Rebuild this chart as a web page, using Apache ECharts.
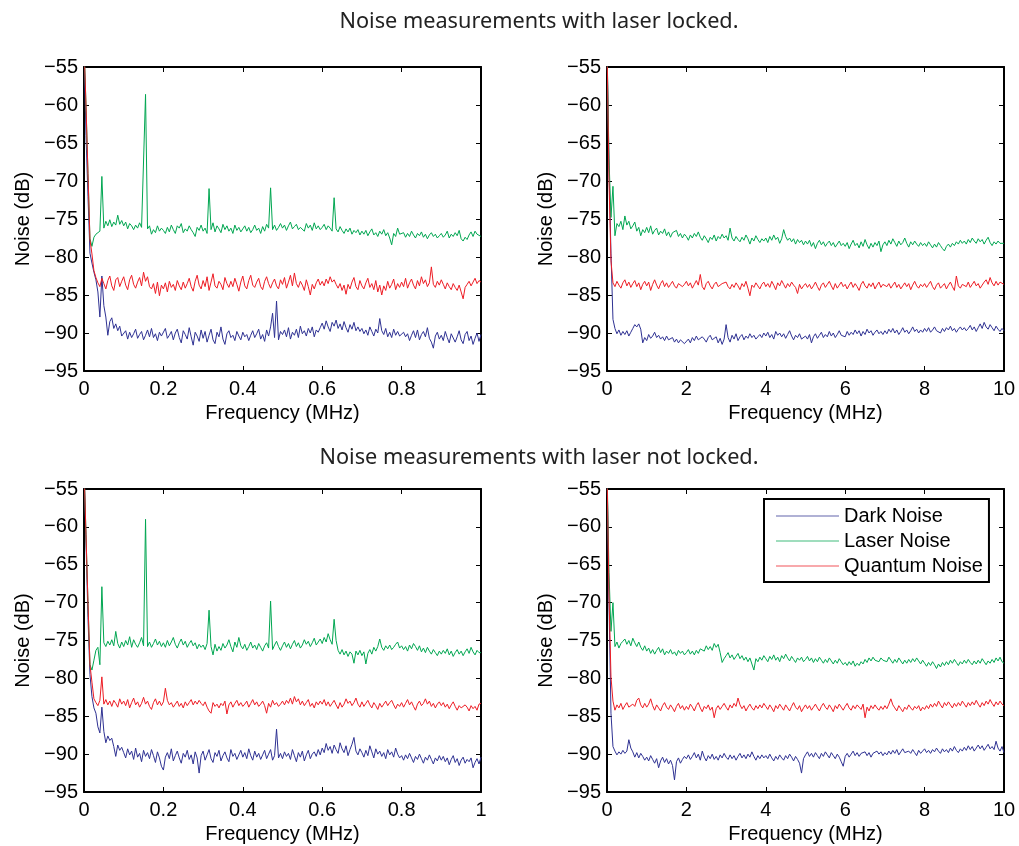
<!DOCTYPE html>
<html>
<head>
<meta charset="utf-8">
<script src="https://cdn.jsdelivr.net/npm/echarts@6/dist/echarts.min.js"></script>
<style>
html,body{margin:0;padding:0;background:#fff;}
#chart{width:1019px;height:846px;}
</style>
</head>
<body>
<div id="chart"></div>
<script>
// ---------- sample grids (frequency, MHz) ----------
const freqLow = Array.from({length: 201}, (_, i) => Math.round(i * 5) / 1000);   // 0 .. 1 MHz
const freqHigh = Array.from({length: 201}, (_, i) => Math.round(i * 50) / 1000); // 0 .. 10 MHz

// ---------- tick values ----------
const yTicks = { min: -95, max: -55, interval: 5 };
const xTicksLow = { min: 0, max: 1, interval: 0.2 };
const xTicksHigh = { min: 0, max: 10, interval: 2 };

const seriesNames = ['Dark Noise', 'Laser Noise', 'Quantum Noise'];
const titles = ['Noise measurements with laser locked.', 'Noise measurements with laser not locked.'];

// ---------- laser locked, 0-1 MHz ----------
const lockedLowDark = [
-52,-64,-72,-79.5,-80.8,-82,-83,-84.6,-87.9,-82.5,-86.4,-87.9,-90.3,-88.5,-88,-89.4,-88.8,-89.7,-89.1,-90.4,
-90.4,-89.7,-90.8,-89.9,-90.6,-90.1,-89.5,-90.7,-90.2,-89.8,-90.9,-90.3,-89.6,-90.5,-89.4,-90.6,-90.1,-91.0,-89.9,-90.4,
-90.2,-89.4,-90.7,-90.3,-89.8,-90.9,-90.0,-89.5,-90.6,-91.3,-89.7,-90.2,-90.8,-89.3,-90.5,-91.6,-89.9,-90.4,-91.1,-89.6,
-90.7,-89.8,-91.2,-90.3,-89.5,-90.9,-91.4,-89.9,-90.5,-89.2,-90.8,-91.5,-90.1,-89.7,-90.6,-90.3,-91.0,-89.8,-90.4,-90.9,
-89.9,-90.5,-90.2,-91.0,-90.3,-89.7,-90.6,-90.1,-89.5,-90.8,-90.2,-91.1,-89.6,-90.4,-89.2,-87.4,-90.6,-85.8,-90.9,-89.8,
-90.2,-89.6,-90.5,-89.3,-90.8,-89.9,-90.3,-89.5,-90.6,-89.1,-90.1,-89.7,-90.4,-89.4,-90.0,-89.2,-90.5,-89.6,-89.9,-89.3,
-88.7,-89.5,-88.4,-89.2,-89.8,-88.6,-89.1,-88.3,-89.4,-88.8,-89.6,-88.5,-89.3,-89.9,-88.9,-89.5,-88.6,-89.7,-89.2,-89.8,
-89.4,-90.1,-89.6,-90.3,-89.2,-89.8,-90.4,-89.5,-90.0,-88.1,-89.7,-90.2,-89.4,-90.5,-89.9,-90.6,-89.5,-90.3,-89.8,-90.4,
-90.6,-89.9,-90.5,-90.1,-91.0,-90.3,-89.7,-90.6,-89.6,-90.9,-90.2,-89.8,-90.5,-89.3,-90.7,-91.2,-92.0,-90.4,-89.9,-90.8,
-90.3,-91.0,-89.8,-90.6,-91.3,-90.1,-89.9,-91.2,-90.5,-89.7,-90.9,-91.4,-90.2,-89.8,-91.0,-90.4,-91.5,-90.7,-90.0,-91.1,
-90.2];
const lockedLowLaser = [
-52,-60,-69,-77.6,-78.6,-77.4,-77.0,-76.8,-76.6,-69.4,-76.2,-75.3,-75.9,-75.1,-76.0,-75.4,-75.8,-74.5,-75.7,-75.2,
-75.9,-75.4,-76.3,-75.6,-75.9,-76.4,-75.8,-76.2,-75.5,-76.1,-76.0,-58.6,-76.3,-75.9,-77.0,-76.4,-76.8,-75.9,-76.6,-76.2,
-76.5,-76.9,-76.1,-76.7,-75.8,-76.4,-76.9,-75.9,-76.2,-75.6,-76.8,-76.3,-76.6,-75.9,-76.4,-76.8,-77.3,-76.1,-76.5,-75.8,
-76.6,-76.2,-76.9,-71.0,-76.4,-75.5,-76.7,-75.9,-76.3,-76.8,-75.7,-76.4,-75.9,-76.6,-76.2,-76.9,-75.8,-76.5,-76.1,-76.7,
-76.3,-75.9,-76.6,-76.1,-76.8,-76.4,-75.8,-76.5,-76.2,-76.9,-76.0,-76.6,-75.7,-76.2,-70.9,-76.4,-75.8,-76.5,-76.1,-75.6,
-76.2,-75.8,-76.5,-75.9,-75.4,-76.3,-76.0,-75.7,-76.4,-76.1,-75.9,-76.6,-75.6,-76.2,-75.8,-76.5,-75.5,-76.3,-75.9,-76.4,
-76.1,-75.7,-76.4,-75.9,-76.2,-76.6,-72.2,-76.3,-76.7,-76.0,-76.5,-76.9,-76.3,-76.7,-76.2,-77.0,-76.5,-76.8,-76.4,-77.1,
-76.6,-77.0,-76.5,-77.2,-76.7,-76.3,-77.1,-76.8,-77.3,-76.6,-77.0,-76.4,-77.2,-76.8,-77.5,-78.4,-76.9,-77.3,-76.2,-77.0,
-77.2,-76.8,-77.4,-76.9,-77.3,-76.6,-77.1,-77.5,-76.9,-77.2,-76.7,-77.4,-77.0,-77.6,-77.1,-76.8,-77.3,-77.0,-77.5,-77.2,
-76.9,-77.4,-77.1,-76.6,-77.5,-77.0,-77.3,-76.8,-77.2,-76.5,-77.6,-77.9,-77.4,-77.7,-77.1,-76.7,-77.3,-76.6,-77.0,-77.2,
-77.3];
const lockedLowQuantum = [
-52,-60,-69,-77.7,-79.6,-81.8,-82.7,-83.4,-83.9,-82.8,-83.5,-84.2,-83.1,-82.5,-83.8,-84.4,-83.0,-82.7,-83.9,-83.2,
-82.6,-83.7,-84.3,-83.0,-82.4,-83.6,-84.1,-83.3,-82.7,-83.8,-82.0,-83.2,-82.6,-83.9,-84.2,-83.5,-84.8,-83.3,-85.1,-83.7,
-84.2,-83.4,-84.6,-83.2,-84.0,-83.6,-84.4,-83.1,-83.8,-84.3,-83.3,-84.1,-83.5,-82.8,-83.9,-84.5,-83.2,-82.4,-83.7,-84.2,
-83.1,-83.9,-82.6,-84.4,-83.3,-82.2,-83.8,-84.1,-83.2,-83.6,-84.3,-82.7,-83.5,-84.0,-83.2,-83.9,-82.8,-83.6,-84.5,-83.3,
-82.5,-83.8,-84.2,-83.1,-82.4,-83.7,-84.0,-83.3,-82.8,-83.9,-84.3,-83.2,-82.6,-83.5,-84.1,-83.4,-82.9,-83.8,-84.2,-83.0,
-83.6,-82.7,-84.1,-83.3,-82.4,-83.8,-82.1,-83.5,-84.0,-83.2,-83.7,-84.4,-83.0,-83.9,-85.0,-83.6,-84.2,-83.4,-82.9,-83.7,
-83.2,-83.8,-82.9,-83.5,-82.6,-83.3,-83.0,-83.6,-84.1,-83.5,-84.4,-83.7,-84.9,-83.6,-84.2,-83.3,-82.7,-83.9,-84.3,-83.1,
-83.8,-84.2,-83.4,-82.8,-84.0,-83.5,-84.3,-83.1,-84.6,-83.7,-85.0,-83.8,-84.4,-83.2,-84.1,-83.6,-82.9,-84.3,-83.5,-84.0,
-83.3,-83.9,-82.8,-84.1,-83.4,-82.9,-83.7,-84.2,-83.1,-83.8,-82.6,-83.5,-83.0,-83.9,-83.4,-81.3,-83.6,-84.0,-83.2,-83.7,
-83.0,-83.6,-84.2,-83.4,-83.9,-84.3,-83.5,-84.0,-84.4,-83.7,-84.6,-85.5,-84.0,-83.6,-83.2,-83.8,-83.3,-82.8,-83.5,-83.1,
-83.3];

// ---------- laser locked, 0-10 MHz ----------
const lockedHighDark = [
-52,-68,-79.5,-88.2,-89.4,-90.1,-89.6,-90.3,-89.8,-90.2,-89.7,-90.4,-89.9,-89.4,-88.9,-89.2,-88.8,-89.5,-91.3,-90.6,
-91.0,-90.2,-90.7,-90.4,-89.9,-90.6,-90.3,-90.8,-90.5,-91.0,-90.4,-90.9,-91.1,-90.6,-91.2,-90.8,-91.3,-90.9,-91.1,-91.4,
-91.2,-90.8,-91.3,-90.6,-91.0,-90.4,-90.9,-91.1,-90.5,-90.8,-91.2,-90.6,-90.3,-90.9,-91.0,-90.5,-91.3,-90.7,-91.5,-90.8,
-88.9,-90.6,-91.2,-90.3,-90.8,-90.1,-91.0,-90.5,-90.2,-90.9,-90.4,-90.7,-90.1,-90.6,-90.3,-90.8,-90.5,-90.2,-90.6,-90.0,
-90.4,-89.9,-90.6,-90.2,-90.8,-89.8,-90.3,-90.0,-90.5,-90.1,-90.7,-90.2,-89.7,-90.4,-90.9,-90.3,-90.6,-90.1,-90.8,-91.0,
-90.4,-90.8,-90.2,-91.3,-90.5,-90.1,-90.7,-90.3,-89.9,-90.6,-90.2,-90.5,-89.8,-90.4,-90.0,-90.6,-90.2,-89.7,-90.3,-90.1,
-90.5,-89.8,-90.3,-89.9,-90.2,-89.6,-90.1,-89.7,-90.4,-89.8,-90.2,-89.5,-90.0,-89.7,-90.3,-89.9,-89.6,-90.1,-89.8,-90.2,
-89.7,-90.1,-89.5,-89.9,-89.4,-90.0,-89.6,-90.2,-89.8,-89.3,-89.9,-89.6,-90.1,-89.7,-89.2,-89.8,-89.5,-90.0,-89.6,-89.9,
-89.4,-89.8,-89.3,-89.9,-89.6,-89.2,-89.7,-89.5,-90.0,-89.4,-89.8,-89.3,-89.6,-89.1,-89.7,-89.4,-89.9,-89.5,-89.2,-89.6,
-89.3,-89.7,-89.4,-89.0,-89.6,-89.2,-89.8,-89.3,-88.8,-89.4,-88.6,-89.2,-89.5,-88.9,-89.3,-89.7,-89.1,-89.5,-89.8,-89.4,
-89.7];
const lockedHighLaser = [
-52,-67,-74.8,-70.7,-77.2,-75.6,-76.0,-75.3,-76.4,-74.6,-75.8,-75.3,-76.3,-75.9,-75.4,-76.6,-76.1,-77.2,-76.4,-76.8,
-76.1,-76.8,-75.9,-77.0,-76.5,-76.2,-77.1,-76.6,-76.9,-76.3,-77.2,-76.7,-77.4,-76.8,-77.0,-76.5,-77.3,-76.9,-77.5,-77.0,
-77.3,-77.8,-77.1,-77.5,-76.9,-77.3,-76.7,-77.4,-77.8,-77.2,-77.6,-78.1,-77.4,-77.7,-77.1,-77.9,-77.3,-77.6,-77.0,-77.5,
-77.2,-77.8,-76.2,-77.5,-77.9,-77.3,-77.7,-78.0,-77.4,-77.8,-77.1,-77.6,-78.3,-77.5,-77.9,-77.2,-77.7,-78.1,-77.6,-77.9,
-77.5,-78.1,-77.3,-77.8,-77.1,-77.7,-77.4,-78.2,-77.6,-76.4,-77.3,-77.8,-77.5,-78.0,-77.6,-78.3,-77.7,-78.1,-77.8,-78.4,
-77.9,-78.3,-77.8,-78.6,-78.1,-78.9,-78.2,-77.8,-78.4,-78.0,-78.6,-78.2,-77.9,-78.5,-78.1,-78.7,-78.3,-77.9,-78.5,-78.2,
-78.6,-78.1,-78.9,-78.3,-77.8,-78.5,-78.2,-78.8,-78.0,-78.6,-77.7,-78.4,-78.9,-78.2,-78.7,-78.1,-78.5,-77.9,-79.3,-78.4,
-78.0,-78.5,-77.8,-78.3,-77.6,-78.1,-78.6,-77.9,-78.4,-78.1,-77.5,-78.2,-78.7,-78.0,-78.4,-77.9,-78.3,-78.6,-78.1,-78.5,
-78.2,-78.6,-78.0,-78.4,-78.8,-78.3,-78.7,-78.1,-78.5,-78.9,-79.2,-78.6,-78.3,-78.7,-78.2,-78.5,-78.0,-78.3,-77.8,-78.2,
-77.9,-78.3,-77.7,-78.1,-77.5,-77.9,-78.2,-77.6,-78.0,-77.7,-78.3,-77.8,-77.4,-78.1,-78.5,-78.0,-78.3,-77.9,-78.2,-78.1,
-78.2];
const lockedHighQuantum = [
-52,-70,-80.5,-83.4,-83.9,-83.2,-83.7,-84.1,-83.4,-83.0,-83.8,-83.3,-84.0,-83.5,-83.1,-83.9,-83.4,-84.3,-83.6,-83.2,
-83.8,-83.3,-84.4,-83.6,-83.0,-83.7,-84.2,-83.5,-83.1,-83.9,-83.4,-84.0,-83.6,-83.2,-83.8,-84.1,-83.5,-83.3,-83.9,-83.6,
-83.2,-83.8,-83.4,-84.1,-83.6,-83.1,-83.7,-82.3,-83.9,-84.3,-83.5,-83.2,-83.8,-84.2,-83.6,-83.3,-83.9,-84.0,-83.5,-83.7,
-83.3,-83.9,-84.2,-83.6,-84.0,-83.4,-83.8,-84.3,-83.5,-83.9,-83.2,-84.1,-85.1,-83.7,-84.0,-83.4,-83.8,-84.2,-83.6,-83.3,
-83.9,-83.5,-84.0,-83.2,-83.7,-84.3,-83.4,-83.8,-83.1,-83.6,-84.1,-83.5,-83.9,-83.3,-83.7,-84.0,-84.8,-83.6,-84.2,-83.8,
-83.5,-84.0,-83.6,-84.2,-83.8,-83.3,-83.9,-84.4,-83.7,-83.4,-84.0,-83.6,-83.2,-83.8,-84.3,-83.5,-84.1,-83.7,-83.3,-83.9,
-83.6,-84.2,-83.7,-83.3,-84.0,-83.5,-83.9,-84.4,-83.6,-83.2,-83.8,-84.1,-83.5,-83.9,-83.4,-84.2,-83.7,-83.3,-84.0,-83.6,
-83.4,-83.9,-83.5,-84.1,-83.7,-83.3,-84.0,-83.6,-84.2,-83.8,-83.4,-83.9,-83.5,-84.3,-83.7,-83.2,-83.8,-84.1,-83.6,-83.9,
-83.5,-84.0,-83.6,-83.2,-83.9,-84.3,-83.7,-83.4,-84.1,-83.8,-83.5,-84.2,-83.7,-83.3,-83.9,-84.4,-82.5,-83.8,-84.1,-83.6,
-83.4,-83.9,-83.3,-84.0,-83.6,-83.2,-83.8,-83.5,-84.1,-83.7,-83.3,-83.0,-83.6,-82.7,-83.4,-83.8,-83.2,-83.7,-83.3,-83.5,
-83.6];

// ---------- laser not locked, 0-1 MHz ----------
const unlockedLowDark = [
-52,-62,-72,-79.5,-82.4,-83.9,-84.6,-86.4,-87.2,-83.8,-87.0,-88.5,-87.6,-88.2,-87.9,-89.0,-90.3,-88.8,-89.5,-89.1,
-89.8,-90.5,-89.3,-90.1,-89.6,-90.7,-89.2,-90.4,-89.9,-91.0,-89.5,-90.3,-89.8,-90.6,-89.4,-90.2,-91.1,-89.7,-90.5,-91.6,
-92.1,-90.4,-89.8,-90.6,-89.3,-90.9,-90.2,-89.6,-90.5,-91.2,-89.9,-90.4,-89.5,-90.7,-90.1,-91.3,-89.7,-90.5,-92.5,-90.2,
-89.6,-90.8,-90.1,-89.4,-90.6,-91.1,-89.8,-90.3,-89.5,-90.9,-90.2,-89.7,-90.5,-91.0,-89.4,-90.3,-89.9,-90.7,-90.1,-89.5,
-90.4,-89.8,-90.6,-89.3,-90.2,-90.8,-89.6,-90.4,-89.9,-90.7,-90.1,-89.5,-90.6,-90.0,-89.4,-90.8,-90.2,-86.7,-90.5,-89.9,
-90.6,-89.7,-90.3,-89.9,-90.7,-89.4,-90.2,-91.0,-89.8,-90.4,-89.6,-90.9,-90.1,-89.5,-90.6,-90.0,-89.7,-90.3,-89.4,-90.1,
-89.2,-89.8,-88.6,-89.5,-89.0,-89.9,-88.8,-89.4,-89.9,-88.5,-89.3,-89.8,-88.9,-90.2,-89.4,-88.7,-87.8,-89.6,-90.1,-89.3,
-89.8,-90.4,-89.5,-90.2,-88.9,-89.7,-90.5,-89.3,-90.0,-89.6,-90.3,-89.8,-90.6,-89.4,-90.1,-89.7,-90.4,-89.2,-90.0,-90.5,
-90.2,-90.8,-90.1,-90.6,-89.9,-90.5,-91.1,-90.3,-90.7,-90.0,-90.6,-91.2,-90.4,-90.8,-90.1,-90.7,-91.3,-90.5,-90.9,-90.2,
-90.8,-90.3,-91.0,-90.5,-91.4,-90.7,-90.2,-91.1,-90.6,-91.5,-90.8,-90.4,-91.2,-90.7,-91.0,-90.5,-91.8,-91.1,-90.6,-91.3,
-90.4];
const unlockedLowLaser = [
-52,-61,-70,-78.2,-78.9,-77.6,-76.3,-75.9,-78.2,-67.9,-75.3,-75.8,-75.1,-75.6,-74.9,-75.7,-73.8,-75.4,-76.0,-75.2,
-75.8,-75.0,-75.6,-74.5,-75.9,-74.9,-75.5,-75.9,-75.3,-74.6,-75.7,-59.0,-75.8,-75.2,-75.9,-75.4,-74.8,-75.6,-75.1,-75.8,
-75.3,-75.9,-75.0,-75.7,-75.2,-74.6,-75.5,-76.0,-75.3,-74.8,-75.6,-75.1,-75.9,-75.4,-75.0,-75.7,-75.3,-76.1,-75.5,-75.9,
-75.6,-76.2,-75.4,-71.0,-75.8,-76.9,-75.5,-76.4,-75.8,-76.3,-75.4,-76.0,-75.6,-74.9,-75.8,-76.5,-75.2,-75.9,-74.6,-75.7,
-76.1,-75.5,-76.3,-75.8,-75.2,-76.0,-75.6,-76.2,-75.4,-75.9,-76.4,-75.7,-75.3,-76.0,-69.8,-76.2,-75.6,-75.1,-75.8,-76.3,
-75.7,-75.2,-75.9,-75.4,-76.1,-75.5,-75.0,-75.8,-75.3,-76.0,-75.6,-74.9,-75.5,-75.1,-75.8,-75.3,-74.7,-75.6,-75.2,-74.8,
-75.4,-74.6,-75.2,-74.1,-74.9,-75.5,-72.2,-75.0,-76.3,-76.8,-76.2,-76.9,-76.4,-77.1,-76.5,-76.8,-78.0,-76.4,-76.9,-76.3,
-77.0,-76.5,-78.1,-76.7,-76.2,-76.8,-75.9,-76.4,-75.8,-74.8,-75.9,-76.3,-75.7,-76.1,-75.6,-76.2,-75.9,-75.5,-75.2,-76.0,
-75.7,-76.2,-75.8,-76.4,-75.6,-76.1,-75.4,-75.8,-76.3,-75.7,-76.5,-76.0,-76.6,-75.9,-76.4,-76.8,-76.2,-76.6,-77.0,-76.4,
-76.8,-76.3,-76.7,-76.1,-76.9,-76.4,-77.1,-76.6,-76.2,-76.8,-76.4,-77.0,-76.5,-76.1,-76.7,-75.9,-76.5,-76.9,-76.3,-76.6,
-76.6];
const unlockedLowQuantum = [
-52,-61,-70,-78.2,-80.5,-82.7,-83.2,-83.6,-82.9,-79.8,-83.4,-82.8,-83.5,-83.0,-83.7,-82.9,-83.3,-83.8,-82.7,-83.4,
-83.0,-83.6,-82.8,-83.9,-83.2,-82.6,-83.5,-83.1,-83.8,-83.3,-82.5,-83.4,-83.0,-83.7,-84.1,-83.2,-82.7,-83.5,-83.0,-83.6,
-83.1,-81.3,-82.9,-83.5,-83.2,-83.8,-83.4,-83.0,-83.7,-83.3,-83.9,-83.1,-83.6,-83.2,-82.8,-83.5,-83.0,-83.4,-82.9,-83.3,
-83.6,-83.1,-83.8,-84.3,-84.6,-83.2,-83.7,-83.4,-83.9,-83.3,-83.6,-83.0,-84.7,-83.5,-83.1,-83.8,-83.3,-82.9,-83.6,-83.2,
-83.7,-83.4,-83.0,-83.8,-83.3,-82.8,-83.5,-83.1,-83.7,-83.4,-83.0,-83.6,-84.6,-83.3,-83.8,-82.9,-83.5,-83.2,-83.7,-83.4,
-83.0,-83.5,-82.9,-83.3,-82.6,-83.4,-82.4,-83.1,-82.7,-83.5,-83.0,-83.6,-83.2,-82.8,-83.7,-83.3,-83.9,-83.1,-83.5,-83.0,
-83.4,-82.8,-83.6,-83.1,-83.7,-83.3,-82.9,-83.5,-84.0,-83.2,-83.8,-83.4,-82.7,-83.3,-83.0,-83.6,-83.2,-82.6,-83.4,-83.8,
-83.1,-83.7,-83.3,-82.9,-83.5,-83.9,-83.2,-83.6,-84.1,-83.3,-83.8,-83.4,-83.0,-83.6,-83.2,-82.9,-83.5,-84.0,-83.4,-83.7,
-83.2,-83.8,-83.3,-82.8,-83.5,-83.1,-83.7,-84.2,-83.4,-83.0,-83.6,-83.3,-82.7,-83.4,-83.0,-83.7,-83.3,-83.9,-83.4,-83.1,
-83.6,-83.2,-83.8,-83.4,-84.0,-83.5,-83.1,-83.7,-84.2,-83.6,-83.9,-84.1,-83.5,-83.8,-84.3,-83.6,-84.0,-83.7,-84.2,-83.4,
-83.3];

// ---------- laser not locked, 0-10 MHz ----------
const unlockedHighDark = [
-52,-70,-84.6,-89.0,-89.6,-90.1,-89.7,-90.0,-89.5,-89.9,-89.6,-88.1,-89.2,-89.7,-90.4,-89.8,-90.5,-89.9,-90.3,-90.8,
-90.4,-90.9,-90.2,-90.7,-91.2,-90.6,-91.8,-90.9,-90.4,-91.1,-90.6,-91.3,-90.8,-91.5,-93.4,-91.0,-90.5,-91.2,-90.7,-90.3,
-90.6,-90.1,-90.7,-90.3,-89.8,-90.5,-90.0,-90.8,-89.6,-90.4,-90.9,-90.2,-90.6,-90.0,-90.7,-90.3,-90.8,-90.1,-90.5,-89.9,
-90.4,-90.7,-90.1,-90.6,-90.2,-90.8,-90.3,-89.9,-90.5,-90.1,-90.6,-90.0,-90.4,-89.7,-90.3,-90.8,-90.2,-90.6,-90.1,-90.5,
-90.2,-90.6,-90.0,-90.5,-90.9,-90.3,-90.7,-90.1,-90.5,-90.8,-90.2,-90.6,-90.0,-90.4,-90.9,-90.3,-90.7,-91.2,-92.5,-90.6,
-90.1,-89.7,-90.3,-89.9,-90.4,-89.8,-90.2,-90.6,-89.9,-90.3,-89.7,-90.1,-90.5,-89.8,-90.2,-90.6,-90.0,-90.4,-91.0,-91.6,
-90.3,-89.9,-90.4,-90.0,-89.6,-90.2,-89.8,-90.3,-89.9,-90.1,-89.7,-90.2,-89.8,-90.4,-89.9,-90.1,-89.6,-90.0,-89.7,-90.2,
-89.8,-90.1,-89.6,-90.0,-89.5,-89.9,-89.4,-90.1,-89.7,-89.3,-89.8,-90.0,-89.6,-89.9,-89.4,-89.8,-90.2,-89.5,-89.9,-89.6,
-89.3,-89.8,-89.5,-89.9,-89.4,-89.7,-89.2,-89.6,-89.9,-89.3,-89.7,-89.4,-89.8,-89.2,-89.6,-89.0,-89.5,-89.8,-89.3,-89.6,
-89.1,-89.5,-88.9,-89.4,-89.0,-89.6,-89.2,-88.8,-89.3,-88.9,-89.5,-89.1,-88.7,-89.3,-89.0,-89.4,-88.3,-89.2,-89.6,-89.0,
-89.8];
const unlockedHighLaser = [
-52,-66,-73.8,-70.0,-75.8,-75.2,-76.0,-75.4,-75.1,-74.8,-75.5,-75.0,-75.7,-74.7,-75.3,-75.8,-75.2,-75.9,-76.3,-75.7,
-76.4,-76.0,-76.7,-76.2,-76.8,-76.3,-75.9,-76.6,-76.1,-76.9,-76.4,-76.7,-76.2,-76.8,-76.5,-77.0,-76.3,-76.7,-76.4,-76.9,
-76.6,-76.2,-76.8,-76.4,-76.9,-76.3,-76.7,-76.1,-75.9,-76.4,-75.7,-76.2,-75.8,-76.3,-75.4,-75.9,-75.5,-76.6,-77.9,-77.4,
-77.0,-76.6,-77.3,-76.9,-77.5,-77.1,-76.7,-77.4,-77.0,-77.6,-77.2,-77.8,-77.3,-77.5,-78.9,-77.4,-77.8,-77.2,-77.6,-77.0,
-77.4,-77.8,-77.1,-77.5,-76.9,-77.6,-77.2,-77.8,-77.0,-77.4,-76.8,-77.3,-77.7,-77.1,-77.5,-77.9,-77.3,-77.6,-77.2,-77.8,
-77.5,-77.1,-77.7,-77.3,-77.9,-77.4,-77.8,-77.2,-77.6,-78.0,-77.5,-77.9,-77.3,-77.7,-78.1,-77.6,-78.0,-77.4,-77.8,-78.2,
-77.9,-78.3,-77.8,-78.2,-77.7,-78.4,-78.0,-78.3,-77.8,-78.1,-77.5,-77.9,-77.3,-77.7,-77.2,-77.6,-77.4,-77.8,-77.3,-77.6,
-77.4,-77.8,-77.2,-77.6,-78.0,-77.5,-77.9,-77.3,-77.7,-78.1,-77.6,-78.0,-77.5,-77.9,-77.4,-77.8,-77.3,-77.7,-78.1,-77.6,
-78.0,-78.4,-77.9,-78.3,-77.8,-78.2,-78.7,-78.1,-78.5,-77.9,-78.3,-77.8,-78.2,-77.6,-78.0,-77.5,-77.9,-78.3,-77.8,-78.1,
-77.6,-78.0,-77.5,-77.9,-78.2,-77.7,-78.1,-77.6,-78.0,-77.4,-77.8,-78.2,-77.7,-78.0,-77.5,-77.9,-77.3,-77.7,-77.2,-77.8,
-78.0];
const unlockedHighQuantum = [
-52,-69,-79.8,-83.0,-84.2,-83.5,-83.9,-83.3,-84.1,-83.6,-83.2,-83.8,-84.0,-83.4,-83.7,-82.9,-82.6,-83.5,-83.9,-83.3,
-83.8,-83.4,-82.7,-83.6,-84.2,-83.5,-83.9,-84.3,-83.6,-83.2,-83.8,-84.1,-83.5,-83.9,-84.4,-83.7,-83.3,-84.0,-83.6,-84.2,
-83.7,-84.1,-83.4,-83.8,-84.3,-83.6,-83.2,-83.9,-84.4,-83.7,-84.0,-83.5,-84.2,-83.8,-85.2,-84.0,-83.6,-84.1,-83.7,-83.3,
-83.8,-84.2,-83.5,-83.9,-83.3,-83.7,-82.6,-83.5,-84.0,-83.6,-84.3,-83.8,-83.4,-83.9,-84.2,-83.6,-84.0,-83.5,-83.9,-83.3,
-83.7,-84.1,-83.5,-83.9,-84.4,-83.6,-84.0,-83.4,-83.8,-84.2,-83.5,-83.9,-84.3,-83.7,-83.2,-83.8,-84.1,-83.6,-84.4,-83.9,
-83.5,-84.0,-83.6,-84.2,-83.8,-83.4,-83.9,-84.3,-83.7,-83.3,-83.8,-84.1,-83.5,-83.9,-84.4,-83.6,-84.0,-83.4,-83.8,-84.2,
-83.7,-83.3,-83.9,-84.2,-83.6,-84.0,-83.5,-83.8,-84.1,-83.4,-85.2,-83.8,-84.3,-83.6,-84.0,-83.5,-83.9,-84.2,-83.7,-84.1,
-83.6,-84.0,-83.4,-82.7,-83.5,-83.9,-84.3,-83.6,-84.0,-84.4,-83.8,-84.1,-83.5,-83.9,-84.2,-83.7,-84.0,-83.6,-84.3,-83.8,
-84.1,-83.6,-84.0,-83.4,-83.8,-83.3,-83.7,-83.0,-83.5,-83.9,-83.2,-83.6,-83.1,-83.5,-83.9,-83.3,-83.7,-83.2,-83.6,-83.0,
-83.4,-83.8,-83.2,-83.6,-83.1,-83.5,-82.9,-83.4,-83.8,-83.2,-83.6,-83.0,-83.4,-82.8,-83.3,-83.7,-83.1,-83.5,-83.0,-83.4,
-83.6];

// ---------- build chart ----------
const colors = ['#2e3192', '#00a651', '#ed1c24'];
const FONT = '"Liberation Sans", Arial, Helvetica, sans-serif';

const panels = [
  { freq: freqLow,  xt: xTicksLow,  vals: [lockedLowDark, lockedLowLaser, lockedLowQuantum],       rect: {left: 84,  top: 67,  width: 397, height: 304} },
  { freq: freqHigh, xt: xTicksHigh, vals: [lockedHighDark, lockedHighLaser, lockedHighQuantum],    rect: {left: 607, top: 67,  width: 397, height: 304} },
  { freq: freqLow,  xt: xTicksLow,  vals: [unlockedLowDark, unlockedLowLaser, unlockedLowQuantum], rect: {left: 84,  top: 489, width: 397, height: 303} },
  { freq: freqHigh, xt: xTicksHigh, vals: [unlockedHighDark, unlockedHighLaser, unlockedHighQuantum], rect: {left: 607, top: 489, width: 397, height: 303} }
];

const pairs = (freq, vals) => vals.slice(0, freq.length).map((v, i) => [freq[i], v]);
const minus = v => String(v).replace('-', '\u2212');

const grid = [], xAxis = [], yAxis = [], series = [];
panels.forEach((p, k) => {
  grid.push(Object.assign({ containLabel: false }, p.rect));
  const lineStyle = { color: '#000', width: 2 };
  const tickStyle = { color: '#000', width: 1 };
  xAxis.push({
    type: 'value', gridIndex: k, position: 'bottom', min: p.xt.min, max: p.xt.max, interval: p.xt.interval,
    name: 'Frequency (MHz)', nameLocation: 'middle', nameGap: 32,
    nameTextStyle: { color: '#000', fontSize: 20, fontFamily: FONT },
    axisLine: { show: true, onZero: false, lineStyle },
    axisTick: { show: true, inside: true, length: 5, lineStyle: tickStyle },
    axisLabel: { color: '#000', fontSize: 20, fontFamily: FONT, margin: 8 },
    splitLine: { show: false }
  });
  xAxis.push({
    type: 'value', gridIndex: k, position: 'top', min: p.xt.min, max: p.xt.max, interval: p.xt.interval,
    axisLine: { show: true, onZero: false, lineStyle },
    axisTick: { show: true, inside: true, length: 5, lineStyle: tickStyle },
    axisLabel: { show: false }, splitLine: { show: false }
  });
  yAxis.push({
    type: 'value', gridIndex: k, position: 'left', min: yTicks.min, max: yTicks.max, interval: yTicks.interval,
    name: 'Noise (dB)', nameLocation: 'middle', nameGap: 51,
    nameTextStyle: { color: '#000', fontSize: 20, fontFamily: FONT },
    axisLine: { show: true, onZero: false, lineStyle },
    axisTick: { show: true, inside: true, length: 5, lineStyle: tickStyle },
    axisLabel: { color: '#000', fontSize: 20, fontFamily: FONT, margin: 6, formatter: minus },
    splitLine: { show: false }
  });
  yAxis.push({
    type: 'value', gridIndex: k, position: 'right', min: yTicks.min, max: yTicks.max, interval: yTicks.interval,
    axisLine: { show: true, onZero: false, lineStyle },
    axisTick: { show: true, inside: true, length: 5, lineStyle: tickStyle },
    axisLabel: { show: false }, splitLine: { show: false }
  });
  p.vals.forEach((vals, s) => {
    series.push({
      type: 'line', name: seriesNames[s], xAxisIndex: 2 * k, yAxisIndex: 2 * k,
      data: pairs(p.freq, vals), showSymbol: false, symbol: 'none', clip: true,
      lineStyle: { color: colors[s], width: 1 }, itemStyle: { color: colors[s] },
      silent: true, animation: false
    });
  });
});

const chart = echarts.init(document.getElementById('chart'), null, { renderer: 'canvas' });
chart.setOption({
  backgroundColor: '#fff',
  animation: false,
  color: colors,
  graphic: [
    { type: 'text', x: 539, y: 22, style: { text: titles[0], fill: '#222', font: '21.7px "Noto Sans", "Open Sans", sans-serif', textAlign: 'center', textVerticalAlign: 'middle' } },
    { type: 'text', x: 539, y: 458, style: { text: titles[1], fill: '#222', font: '21.7px "Noto Sans", "Open Sans", sans-serif', textAlign: 'center', textVerticalAlign: 'middle' } }
  ],
  legend: {
    data: seriesNames.map((n, i) => ({ name: n, icon: 'rect', itemStyle: { color: colors[i], opacity: 0.75 } })),
    orient: 'vertical', left: 764, top: 499,
    padding: [7, 6, 6, 12], itemGap: 5, itemWidth: 63, itemHeight: 1,
    backgroundColor: '#fff', borderColor: '#000', borderWidth: 2,
    textStyle: { color: '#000', fontSize: 20, fontFamily: FONT, lineHeight: 20 },
    selectedMode: false
  },
  grid, xAxis, yAxis, series
});
</script>
</body>
</html>
